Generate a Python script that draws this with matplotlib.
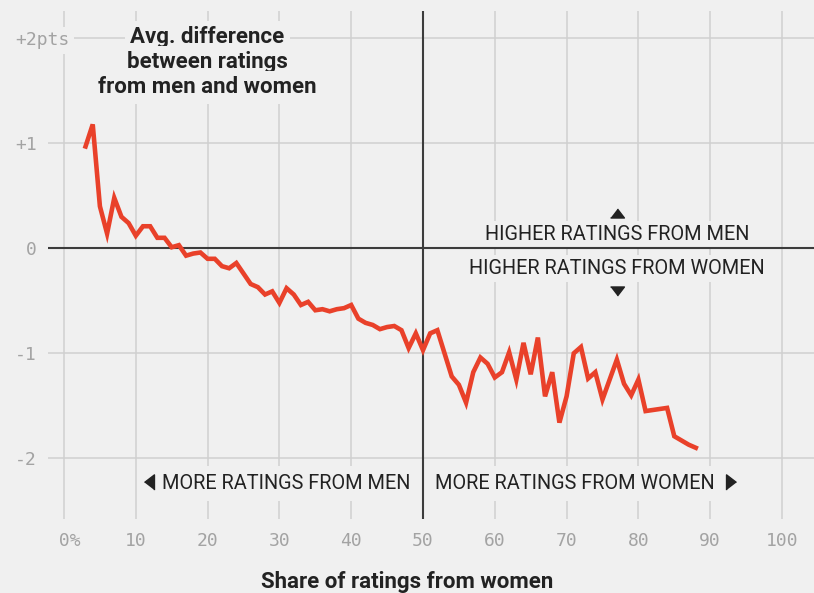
import matplotlib
matplotlib.use("Agg")
import matplotlib.pyplot as plt

# share of ratings from women (%) and avg. difference men - women (pts)
share_women = list(range(3, 89))
avg_diff = [
    0.97, 1.18, 0.40, 0.14, 0.48, 0.30, 0.24, 0.12, 0.21, 0.21,
    0.10, 0.10, 0.01, 0.03, -0.07, -0.05, -0.04, -0.10, -0.10, -0.17,
    -0.19, -0.14, -0.24, -0.34, -0.37, -0.44, -0.41, -0.52, -0.38, -0.44,
    -0.54, -0.51, -0.59, -0.58, -0.60, -0.58, -0.57, -0.54, -0.67, -0.71,
    -0.73, -0.77, -0.75, -0.74, -0.78, -0.95, -0.81, -0.97, -0.81, -0.78,
    -1.00, -1.22, -1.30, -1.47, -1.18, -1.04, -1.10, -1.23, -1.18, -0.99,
    -1.25, -0.90, -1.20, -0.85, -1.41, -1.18, -1.66, -1.41, -1.00, -0.94,
    -1.24, -1.18, -1.44, -1.25, -1.06, -1.29, -1.40, -1.25, -1.55, -1.54,
    -1.53, -1.52, -1.79, -1.83, -1.87, -1.90,
]

x_ticks = list(range(0, 101, 10))
x_labels = [" 0%", "10", "20", "30", "40", "50", "60", "70", "80", "90", "100"]
y_ticks = [-2, -1, 0, 1, 2]
y_labels = ["-2", "-1", "0", "+1", ""]  # top one is drawn as "+2pts" below

bg = "#f0f0f0"
grid_c = "#d0d0d0"
dark = "#3c3c3c"
red = "#e9412a"
txt = "#222222"
tick_c = "#a3a3a3"
sans = ["Roboto", "DejaVu Sans"]

fig = plt.figure(figsize=(8.14, 5.93), dpi=100, facecolor=bg)
ax = fig.add_axes([48 / 814, 74 / 593, 766 / 814, 508 / 593])
ax.set_facecolor(bg)
for s in ax.spines.values():
    s.set_visible(False)

ax.set_xlim(-2.23, 104.46)
ax.set_ylim(-2.578, 2.26)

# grid
for v in x_ticks:
    if v == 50:
        ax.axvline(v, color=dark, lw=1.5, zorder=3)
    else:
        ax.axvline(v, color=grid_c, lw=1.1, zorder=1)
for h in y_ticks:
    if h == 0:
        ax.axhline(h, color=dark, lw=1.5, zorder=3)
    else:
        ax.axhline(h, color=grid_c, lw=1.1, zorder=1)

ax.plot(share_women, avg_diff, color=red, lw=3.3, zorder=5, solid_joinstyle="miter")

ax.set_xticks(x_ticks, labels=x_labels)
ax.set_yticks(y_ticks, labels=y_labels)
ax.tick_params(length=0, labelsize=13, labelcolor=tick_c)
ax.tick_params(axis="x", pad=9)
ax.tick_params(axis="y", pad=8)
for lab in ax.get_xticklabels() + ax.get_yticklabels():
    lab.set_fontfamily("DejaVu Sans Mono")

ax.text(-6.82, 2, "+2pts", ha="left", va="center_baseline", fontsize=13,
        color=tick_c, family="DejaVu Sans Mono", clip_on=False, zorder=2,
        bbox=dict(boxstyle="square,pad=0.25", facecolor=bg, edgecolor="none"))

# title inside the plot
title_lines = ["Avg. difference", "between ratings", "from men and women"]
title_y = [1.952, 1.714, 1.476]
for line, yy in zip(title_lines, title_y):
    ax.text(20, yy, line, ha="center", va="baseline", fontsize=16,
            fontweight="bold", family=sans, color=txt, zorder=2,
            bbox=dict(boxstyle="square,pad=0.25", facecolor=bg, edgecolor="none"))

lbox = dict(boxstyle="square,pad=0.4", facecolor=bg, edgecolor="none")
sbox = dict(boxstyle="square,pad=0.2", facecolor=bg, edgecolor="none")
ax.text(77, 0.079, "HIGHER RATINGS FROM MEN", ha="center", va="baseline",
        fontsize=14.3, family=sans, color=txt, zorder=2, bbox=sbox)
ax.text(77, -0.245, "HIGHER RATINGS FROM WOMEN", ha="center", va="baseline",
        fontsize=14.3, family=sans, color=txt, zorder=2, bbox=sbox)
ax.text(48.3, -2.295, "MORE RATINGS FROM MEN", ha="right", va="baseline",
        fontsize=14.3, family=sans, color=txt, zorder=2, bbox=lbox)
ax.text(51.7, -2.295, "MORE RATINGS FROM WOMEN", ha="left", va="baseline",
        fontsize=14.3, family=sans, color=txt, zorder=2, bbox=lbox)

# arrows
up = [(-1, -0.65), (1, -0.65), (0, 0.65)]
down = [(-1, 0.65), (1, 0.65), (0, -0.65)]
left = [(0.65, -1), (0.65, 1), (-0.65, 0)]
right = [(-0.65, -1), (-0.65, 1), (0.65, 0)]
ax.plot([77], [0.34], marker=up, ms=10, color=txt, ls="none", zorder=4)
ax.plot([77], [-0.41], marker=down, ms=10, color=txt, ls="none", zorder=4)
ax.plot([11.8], [-2.23], marker=left, ms=11, color=txt, ls="none", zorder=4)
ax.plot([92.9], [-2.23], marker=right, ms=11, color=txt, ls="none", zorder=4)

fig.text(407 / 814, 1 - 588 / 593, "Share of ratings from women", ha="center",
         va="baseline", fontsize=16, fontweight="bold", family=sans, color=txt)

fig.savefig("out.png", dpi=100, facecolor=bg)
